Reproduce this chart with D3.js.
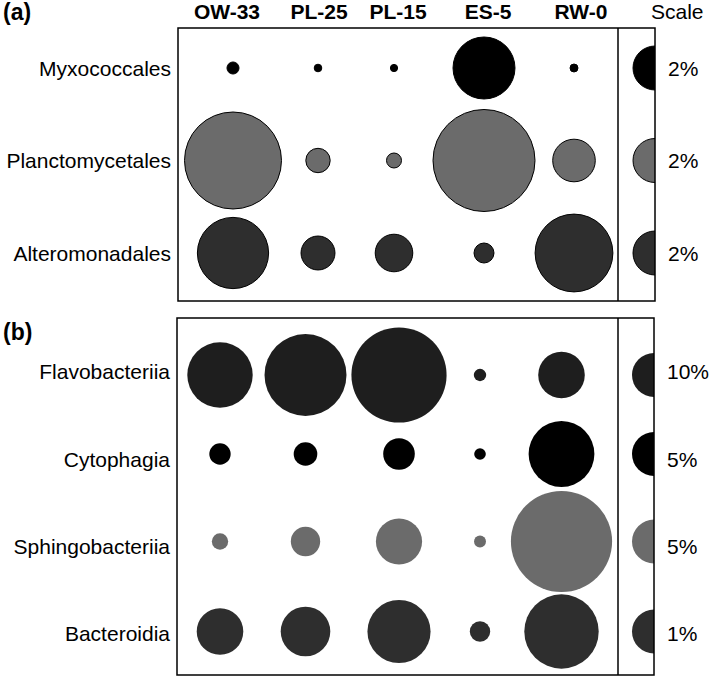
<!DOCTYPE html>
<html lang="en">
<head>
<meta charset="UTF-8">
<title>Bubble chart</title>
<style>
    body { margin: 0; background: #fff; }
    svg { display: block; font-family: "Liberation Sans", Arial, sans-serif; }
</style>
</head>
<body>
<div id="chart"></div>
<script src="https://d3js.org/d3.v7.min.js"></script>
<script>
// samples (columns)
const samples = ["OW-33", "PL-25", "PL-15", "ES-5", "RW-0"];

// panel (a): relative abundance (%) per taxon and sample
const taxaA = ["Myxococcales", "Planctomycetales", "Alteromonadales"];
const scalePctA = [2, 2, 2];
const myxococcales = [0.15, 0.06, 0.054, 3.97, 0.066];
const planctomycetales = [9.72, 0.615, 0.232, 10.75, 1.875];
const alteromonadales = [5.24, 1.19, 1.46, 0.413, 6.25];

// panel (b)
const taxaB = ["Flavobacteriia", "Cytophagia", "Sphingobacteriia", "Bacteroidia"];
const scalePctB = [10, 5, 5, 1];
const flavobacteriia = [22.1, 34.7, 46.8, 0.79, 11.2];
const cytophagia = [1.18, 1.44, 2.58, 0.35, 11.18];
const sphingobacteriia = [0.69, 2.23, 5.51, 0.37, 26.45];
const bacteroidia = [1.12, 1.27, 2.06, 0.215, 2.86];

const width = 709, height = 676;
const scaleR = 22;      // radius of the scale circle

const svg = d3.select("#chart").append("svg")
    .attr("width", width)
    .attr("height", height);

function drawPanel(p) {
    const g = svg.append("g");
    const x = d3.scaleOrdinal().domain(samples).range(p.colX);
    const y = d3.scaleOrdinal().domain(p.taxa).range(p.rowY);
    const ly = d3.scaleOrdinal().domain(p.taxa).range(p.labelY);

    const clipId = "clip-" + p.name;
    svg.append("clipPath").attr("id", clipId)
        .append("rect")
        .attr("x", p.left).attr("y", p.top)
        .attr("width", p.right - p.left).attr("height", p.bottom - p.top);

    const rows = p.taxa.map((t, i) => ({ taxon: t, pct: p.scalePct[i], values: p.values[i], fill: p.fills[i] }));

    rows.forEach(row => {
        const r = d3.scaleSqrt().domain([0, row.pct]).range([0, scaleR]);
        g.selectAll(null)
            .data(row.values.map((v, j) => ({ sample: samples[j], v })))
            .enter().append("circle")
            .attr("cx", d => x(d.sample))
            .attr("cy", y(row.taxon))
            .attr("r", d => r(d.v))
            .attr("fill", row.fill)
            .attr("stroke", p.stroke ? "#000" : "none")
            .attr("stroke-width", 1);

        // scale circle, cut by the right border
        g.append("circle")
            .attr("clip-path", `url(#${clipId})`)
            .attr("cx", p.right)
            .attr("cy", y(row.taxon))
            .attr("r", r(row.pct))
            .attr("fill", row.fill)
            .attr("stroke", p.stroke ? "#000" : "none")
            .attr("stroke-width", 1);

        g.append("text")
            .attr("x", p.left - 7)
            .attr("y", ly(row.taxon))
            .attr("text-anchor", "end")
            .attr("dominant-baseline", "central")
            .attr("font-size", 21)
            .text(row.taxon);

        g.append("text")
            .attr("x", p.right + 13)
            .attr("y", ly(row.taxon))
            .attr("dominant-baseline", "central")
            .attr("font-size", 21)
            .text(row.pct + "%");
    });

    // frame and divider
    g.append("rect")
        .attr("x", p.left).attr("y", p.top)
        .attr("width", p.right - p.left).attr("height", p.bottom - p.top)
        .attr("fill", "none").attr("stroke", "#000").attr("stroke-width", 1.5);
    g.append("line")
        .attr("x1", p.divider).attr("x2", p.divider)
        .attr("y1", p.top).attr("y2", p.bottom)
        .attr("stroke", "#000").attr("stroke-width", 1.5);

    g.append("text")
        .attr("x", 3)
        .attr("y", p.tagY)
        .attr("dominant-baseline", "central")
        .attr("font-size", 23)
        .attr("font-weight", "bold")
        .text(p.tag);
}

drawPanel({
    name: "a", tag: "(a)", tagY: 12,
    taxa: taxaA, scalePct: scalePctA,
    values: [myxococcales, planctomycetales, alteromonadales],
    fills: ["#000000", "#6b6b6b", "#2e2e2e"],
    stroke: true,
    left: 178, right: 655, top: 28, bottom: 301, divider: 618,
    colX: [233, 318, 394, 484, 574],
    rowY: [68, 160.5, 253],
    labelY: [68, 160.5, 253]
});

drawPanel({
    name: "b", tag: "(b)", tagY: 332,
    taxa: taxaB, scalePct: scalePctB,
    values: [flavobacteriia, cytophagia, sphingobacteriia, bacteroidia],
    fills: ["#1e1e1e", "#000000", "#6b6b6b", "#2e2e2e"],
    stroke: false,
    left: 177, right: 654, top: 318, bottom: 675, divider: 618,
    colX: [220, 305.5, 399, 480, 561.5],
    rowY: [375, 454, 541.5, 631.5],
    labelY: [371, 459, 546, 633]
});

// column headers
const colHead = d3.scaleOrdinal().domain(samples).range([227, 319, 398, 488, 581]);
svg.append("g").selectAll("text")
    .data(samples)
    .enter().append("text")
    .attr("x", d => colHead(d))
    .attr("y", 11)
    .attr("text-anchor", "middle")
    .attr("dominant-baseline", "central")
    .attr("font-size", 21)
    .attr("font-weight", "bold")
    .text(d => d);

svg.append("text")
    .attr("x", 651)
    .attr("y", 11)
    .attr("dominant-baseline", "central")
    .attr("font-size", 21)
    .text("Scale");
</script>
</body>
</html>
